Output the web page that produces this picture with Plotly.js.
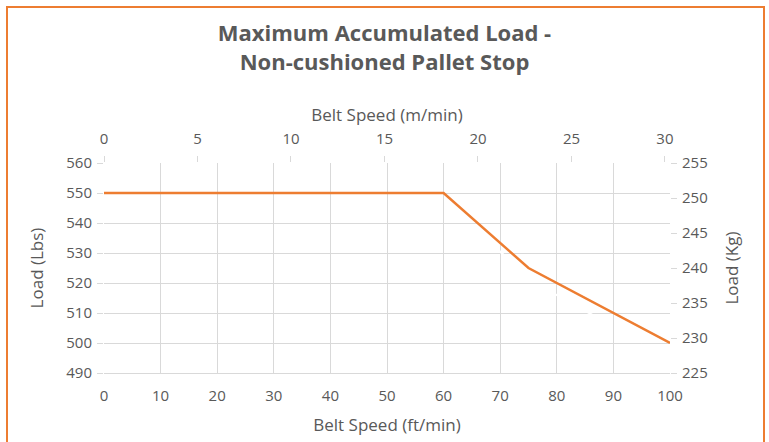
<!DOCTYPE html>
<html>
<head>
<meta charset="utf-8">
<script src="https://cdn.plot.ly/plotly-3.0.1.min.js"></script>
<style>html,body{margin:0;padding:0;background:#fff;}#chart{width:769px;height:442px;}</style>
</head>
<body>
<div id="chart"></div>
<script>
// Data
const speedFt = [0, 60, 75, 100];          // Belt speed, ft/min
const loadLbs = [550, 550, 525, 500];      // Load, Lbs
const speedM = [18.3, 22.9, 30.5];         // Belt speed, m/min (secondary series)
const loadKg = [249.5, 238.1, 226.8];      // Load, Kg
const bottomTicks = [0,10,20,30,40,50,60,70,80,90,100];
const topTicks = [0,5,10,15,20,25,30];
const leftTicks = [490,500,510,520,530,540,550,560];
const rightTicks = [225,230,235,240,245,250,255];

const txt = '#595959';
const grid = '#d9d9d9';
const orange = '#ED7D31';
const fontFam = '"Open Sans", sans-serif';

const traces = [
  {x: speedM, y: loadKg, xaxis: 'x2', yaxis: 'y2', mode: 'lines',
   line: {color: '#ffffff', width: 2, dash: 'dash'}, hoverinfo: 'skip', showlegend: false},
  {x: speedFt, y: loadLbs, xaxis: 'x', yaxis: 'y', mode: 'lines',
   line: {color: orange, width: 2.5}, showlegend: false}
];

const layout = {
  width: 769, height: 442,
  margin: {l: 104, r: 99, t: 163, b: 69},
  paper_bgcolor: '#ffffff', plot_bgcolor: '#ffffff',
  font: {family: fontFam, color: txt, size: 15},
  title: {text: 'Maximum Accumulated Load -<br>Non-cushioned Pallet Stop',
          font: {family: fontFam, size: 22, color: txt, weight: 'bold'},
          x: 0.5, xanchor: 'center', y: 1 - 41/442, yanchor: 'top', yref: 'container'},
  xaxis: {range: [0, 100], tickvals: bottomTicks, showgrid: true, gridcolor: grid, gridwidth: 1,
          zeroline: false, showline: true, linecolor: grid, linewidth: 1, ticks: '',
          ticklabelstandoff: 9, tickfont: {size: 15, color: txt},
          title: {text: 'Belt Speed (ft/min)', font: {size: 17, color: txt}, standoff: 15}},
  xaxis2: {range: [0, 30.27], tickvals: topTicks, overlaying: 'x', side: 'top', anchor: 'y',
           showgrid: false, zeroline: false, showline: false, ticks: 'outside', ticklen: 6,
           tickcolor: grid, ticklabelstandoff: 6, tickfont: {size: 15, color: txt},
           title: {text: 'Belt Speed (m/min)', font: {size: 17, color: txt}, standoff: 2}},
  yaxis: {range: [490, 560], tickvals: leftTicks, showgrid: true, gridcolor: grid, gridwidth: 1,
          zeroline: false, showline: false, ticks: 'outside', ticklen: 6, tickcolor: grid,
          ticklabelstandoff: 2, tickfont: {size: 15, color: txt},
          title: {text: 'Load (Lbs)', font: {size: 17, color: txt}, standoff: 18}},
  yaxis2: {range: [225, 255], tickvals: rightTicks, overlaying: 'y', side: 'right', anchor: 'x',
           showgrid: false, zeroline: false, showline: false, ticks: 'outside', ticklen: 6,
           tickcolor: grid, ticklabelstandoff: 2, tickfont: {size: 15, color: txt},
           title: {text: 'Load (Kg)', font: {size: 17, color: txt}, standoff: 19}},
  shapes: [{type: 'rect', xref: 'paper', yref: 'paper',
            x0: (7-104)/566, x1: (764-104)/566, y0: (373-446)/210, y1: (373-7)/210,
            line: {color: orange, width: 2}, fillcolor: 'rgba(0,0,0,0)', layer: 'above'}]
};

Plotly.newPlot('chart', traces, layout, {displayModeBar: false, staticPlot: true});
</script>
</body>
</html>
